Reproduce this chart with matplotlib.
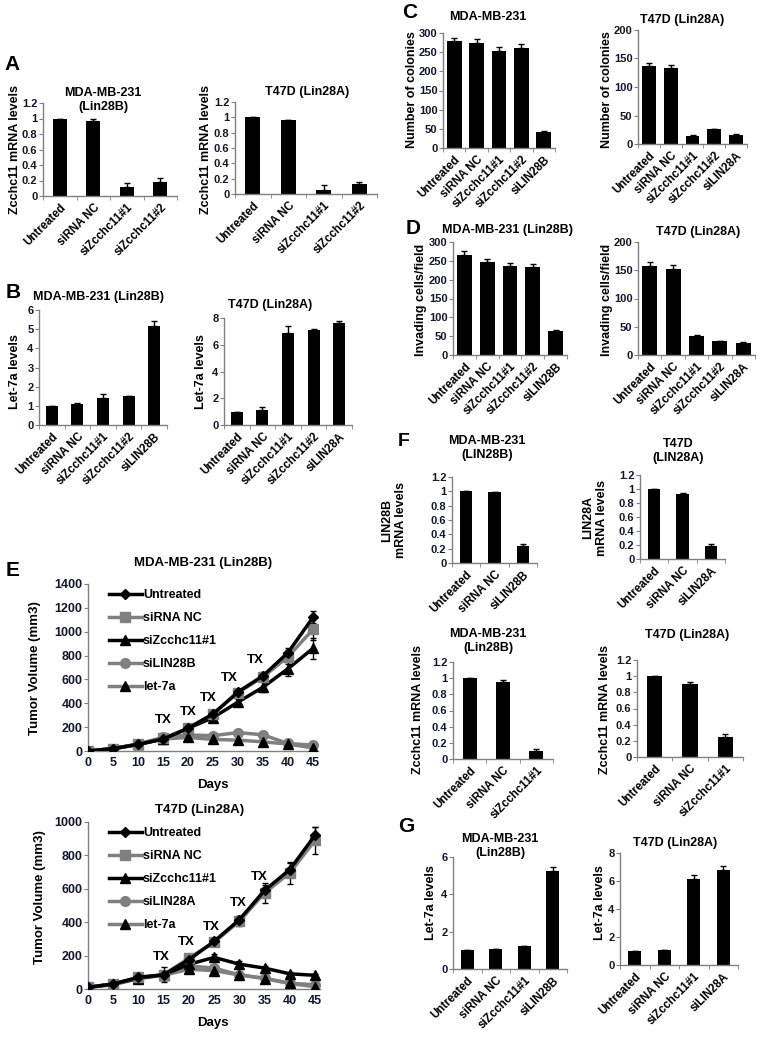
import numpy as np
import matplotlib
matplotlib.use("Agg")
from matplotlib import pyplot as plt
from matplotlib import font_manager

plt.rcParams['font.family'] = ['Liberation Sans', 'DejaVu Sans']
plt.rcParams['font.weight'] = 'bold'

W, H = 762, 1041
GRAY = '#808080'
INK = '#15152e'

# narrow digits for the tick labels, if the narrow face is there
_names = {f.name for f in font_manager.fontManager.ttflist}
if 'Liberation Sans Narrow' in _names:
    NARROW = ['Liberation Sans Narrow', 'Liberation Sans']
    TICK = 9.5
else:
    NARROW = ['Liberation Sans', 'DejaVu Sans']
    TICK = 8

# ---- data ----
a_labels = ['Untreated', 'siRNA NC', 'siZcchc11#1', 'siZcchc11#2']
a_mda = [1.0, 0.97, 0.11, 0.18]
a_mda_err = [0.0, 0.03, 0.06, 0.05]
a_t47 = [1.0, 0.96, 0.05, 0.13]
a_t47_err = [0.0, 0.01, 0.07, 0.03]

b_mda_labels = ['Untreated', 'siRNA NC', 'siZcchc11#1', 'siZcchc11#2', 'siLIN28B']
b_t47_labels = ['Untreated', 'siRNA NC', 'siZcchc11#1', 'siZcchc11#2', 'siLIN28A']
b_mda = [1.0, 1.12, 1.4, 1.5, 5.15]
b_mda_err = [0.0, 0.03, 0.2, 0.03, 0.3]
b_t47 = [1.0, 1.1, 6.9, 7.08, 7.6]
b_t47_err = [0.0, 0.22, 0.5, 0.12, 0.18]

c_mda = [278, 275, 254, 262, 42]
c_mda_err = [10, 10, 9, 10, 2]
c_t47 = [136, 133, 14, 26, 16]
c_t47_err = [6, 5, 1, 1, 1]

d_mda = [265, 246, 236, 233, 65]
d_mda_err = [10, 10, 9, 9, 2]
d_t47 = [158, 152, 34, 24, 22]
d_t47_err = [6, 7, 1, 1, 1]

days = [0, 5, 10, 15, 20, 25, 30, 35, 40, 45]
e_mda_names = ['Untreated', 'siRNA NC', 'siZcchc11#1', 'siLIN28B', 'let-7a']
e_mda_untreated = [0, 20, 55, 100, 190, 310, 495, 630, 825, 1120]
e_mda_sinc = [0, 20, 55, 105, 190, 310, 490, 620, 790, 1020]
e_mda_sizc = [0, 20, 55, 100, 190, 280, 410, 535, 690, 860]
e_mda_silin = [0, 20, 60, 114, 134, 129, 154, 136, 63, 49]
e_mda_let7 = [0, 15, 55, 100, 114, 97, 91, 77, 58, 26]
e_mda_untreated_err = [0, 5, 8, 10, 15, 20, 25, 30, 40, 50]
e_mda_sinc_err = [0, 5, 8, 10, 15, 20, 25, 30, 60, 90]
e_mda_sizc_err = [0, 5, 8, 10, 15, 20, 25, 40, 60, 90]

e_t47_names = ['Untreated', 'siRNA NC', 'siZcchc11#1', 'siLIN28A', 'let-7a']
e_t47_untreated = [10, 30, 70, 85, 175, 285, 415, 590, 715, 920]
e_t47_sinc = [10, 30, 70, 85, 185, 280, 405, 575, 695, 890]
e_t47_sizc = [10, 30, 65, 85, 148, 189, 149, 125, 91, 82]
e_t47_silin = [10, 30, 65, 85, 138, 125, 85, 65, 35, 25]
e_t47_let7 = [10, 25, 62, 82, 118, 110, 84, 62, 33, 14]
e_t47_untreated_err = [5, 10, 15, 20, 20, 20, 25, 30, 40, 50]
e_t47_sinc_err = [5, 10, 15, 45, 20, 20, 30, 60, 65, 80]
e_t47_sizc_err = [5, 10, 15, 20, 20, 20, 20, 15, 10, 10]

f1_mda_labels = ['Untreated', 'siRNA NC', 'siLIN28B']
f1_t47_labels = ['Untreated', 'siRNA NC', 'siLIN28A']
f1_mda = [1.0, 0.99, 0.24]
f1_mda_err = [0.0, 0.005, 0.02]
f1_t47 = [1.0, 0.93, 0.19]
f1_t47_err = [0.0, 0.02, 0.02]

f2_labels = ['Untreated', 'siRNA NC', 'siZcchc11#1']
f2_mda = [1.0, 0.95, 0.1]
f2_mda_err = [0.0, 0.03, 0.02]
f2_t47 = [1.0, 0.9, 0.25]
f2_t47_err = [0.0, 0.03, 0.04]

g_mda_labels = ['Untreated', 'siRNA NC', 'siZcchc11#1', 'siLIN28B']
g_t47_labels = ['Untreated', 'siRNA NC', 'siZcchc11#1', 'siLIN28A']
g_mda = [1.0, 1.05, 1.25, 5.25]
g_mda_err = [0.03, 0.03, 0.0, 0.2]
g_t47 = [1.0, 1.05, 6.15, 6.8]
g_t47_err = [0.0, 0.05, 0.3, 0.25]

fig = plt.figure(figsize=(W / 100, H / 100), dpi=100)


def add_ax(x0, x1, ytop, ybot):
    # pixel box -> figure fraction
    return fig.add_axes([x0 / W, 1 - ybot / H, (x1 - x0) / W, (ybot - ytop) / H])


def ptext(x, y, s, size=9, rot=0, **kw):
    fig.text(x / W, 1 - y / H, s, ha='center', va='center', fontsize=size,
             fontweight='bold', rotation=rot, linespacing=1.15, **kw)


def style_axes(ax, size=TICK):
    for side in ('top', 'right'):
        ax.spines[side].set_visible(False)
    for side in ('left', 'bottom'):
        ax.spines[side].set_color(GRAY)
        ax.spines[side].set_linewidth(1)
    ax.tick_params(axis='y', length=3, color=GRAY, pad=1, labelsize=size,
                   labelcolor=INK)
    for t in ax.get_yticklabels():
        t.set_family(NARROW)
        t.set_fontweight('bold')


def bar_panel(box, labels, vals, errs, ymax, ystep, width, xsize=8.3):
    ax = add_ax(*box)
    x = np.arange(len(vals))
    ax.bar(x, vals, width=width, color='black', zorder=2)
    ax.errorbar(x, vals, yerr=[np.zeros(len(errs)), errs], fmt='none',
                ecolor='black', elinewidth=1, capsize=2.5, capthick=1, zorder=3)
    ax.set_xlim(-0.5, len(vals) - 0.5)
    ax.set_ylim(0, ymax)
    ticks = np.arange(0, ymax + ystep / 2, ystep)
    ax.set_yticks(ticks)
    ax.set_yticklabels(['%g' % round(t, 2) for t in ticks])
    ax.set_xticks(x)
    ax.set_xticklabels(labels, rotation=45, ha='right', rotation_mode='anchor',
                       fontsize=xsize, fontweight='bold')
    ax.set_xticks(np.arange(len(vals) + 1) - 0.5, minor=True)
    ax.tick_params(axis='x', which='major', length=0, pad=4)
    ax.tick_params(axis='x', which='minor', length=3, color=GRAY)
    style_axes(ax)
    return ax


def line_panel(box, ymax, series, names, errs, tx):
    ax = add_ax(*box)
    styles = [
        dict(color='black', marker='D', ms=5, mfc='black', mec='black'),
        dict(color=GRAY, marker='s', ms=7, mfc=GRAY, mec=GRAY),
        dict(color='black', marker='^', ms=7, mfc='black', mec='black'),
        dict(color=GRAY, marker='o', ms=7, mfc=GRAY, mec=GRAY),
        dict(color=GRAY, marker='^', ms=7, mfc='black', mec='black'),
    ]
    order = [3, 4, 2, 1, 0]
    handles = [None] * 5
    for i in order:
        st = styles[i]
        if errs[i] is not None:
            ax.errorbar(days, series[i], yerr=errs[i], fmt='none',
                        ecolor='black', elinewidth=1, capsize=2.5, zorder=2)
        ln, = ax.plot(days, series[i], lw=2.5, zorder=3 + (i == 0), **st)
        handles[i] = ln
    ax.set_xlim(0, 46)
    ax.set_ylim(0, ymax)
    ax.set_xticks(days)
    ax.set_yticks(np.arange(0, ymax + 1, 200))
    ax.tick_params(axis='x', length=0, pad=4, labelsize=TICK + 1,
                   labelcolor=INK)
    for t in ax.get_xticklabels():
        t.set_family(NARROW)
        t.set_fontweight('bold')
    style_axes(ax, TICK + 1)
    for xx, yy in tx:
        ax.text(xx, yy, 'TX', ha='center', va='center', fontsize=9.5,
                fontweight='bold')
    ax.legend(handles, names, loc='upper left',
              bbox_to_anchor=(0.07, 1.0), frameon=False,
              prop=dict(weight='bold', size=9), handlelength=2.6,
              handletextpad=0.1, labelspacing=0.88, borderaxespad=0)
    return ax


# ---- panel A ----
ptext(12, 64, 'A', size=15)
bar_panel((43, 177, 103, 196), a_labels, a_mda, a_mda_err, 1.2, 0.2, 0.42)
ptext(103, 100, 'MDA-MB-231\n(Lin28B)')
ptext(15, 150, 'Zcchc11 mRNA levels', rot=90)
bar_panel((235, 377, 102, 194), a_labels, a_t47, a_t47_err, 1.2, 0.2, 0.42)
ptext(307, 92, 'T47D (Lin28A)')
ptext(206, 150, 'Zcchc11 mRNA levels', rot=90)

# ---- panel B ----
ptext(13, 292, 'B', size=15)
bar_panel((39, 167, 310, 425), b_mda_labels, b_mda, b_mda_err, 6, 1, 0.47)
ptext(98, 297, 'MDA-MB-231 (Lin28B)')
ptext(15, 372, 'Let-7a levels', rot=90)
bar_panel((224, 352, 318, 425), b_t47_labels, b_t47, b_t47_err, 8, 2, 0.47)
ptext(270, 305, 'T47D (Lin28A)')
ptext(201, 372, 'Let-7a levels', rot=90)

# ---- panel C ----
ptext(410, 13, 'C', size=15)
bar_panel((443, 555, 33, 148), b_mda_labels, c_mda, c_mda_err, 300, 50, 0.66)
ptext(488, 17, 'MDA-MB-231')
ptext(412, 90, 'Number of colonies', rot=90)
bar_panel((638, 747, 30, 144), b_t47_labels, c_t47, c_t47_err, 200, 50, 0.64)
ptext(682, 20, 'T47D (Lin28A)')
ptext(607, 90, 'Number of colonies', rot=90)

# ---- panel D ----
ptext(413, 229, 'D', size=15)
bar_panel((453, 567, 242, 355), b_mda_labels, d_mda, d_mda_err, 300, 50, 0.65)
ptext(507, 230, 'MDA-MB-231 (Lin28B)')
ptext(421, 300, 'Invading cells/field', rot=90)
bar_panel((638, 755, 242, 355), b_t47_labels, d_t47, d_t47_err, 200, 50, 0.64)
ptext(698, 232, 'T47D (Lin28A)')
ptext(607, 300, 'Invading cells/field', rot=90)

# ---- panel E ----
ptext(13, 571, 'E', size=15)
line_panel((88, 318, 584, 751), 1400,
           [e_mda_untreated, e_mda_sinc, e_mda_sizc, e_mda_silin, e_mda_let7],
           e_mda_names,
           [e_mda_untreated_err, e_mda_sinc_err, e_mda_sizc_err, None, None],
           [(15, 260), (20, 330), (24, 445), (28.3, 610), (33.5, 765)])
ptext(203, 563, 'MDA-MB-231 (Lin28B)', size=9.5)
ptext(35, 668, 'Tumor Volume (mm3)', rot=90, size=9.5)
ptext(213, 785, 'Days', size=9.5)

line_panel((88, 320, 822, 989), 1000,
           [e_t47_untreated, e_t47_sinc, e_t47_sizc, e_t47_silin, e_t47_let7],
           e_t47_names,
           [e_t47_untreated_err, e_t47_sinc_err, e_t47_sizc_err, None, None],
           [(14.5, 191), (19.5, 280), (24.5, 370), (29.9, 513), (33.9, 668)])
ptext(200, 810, 'T47D (Lin28A)', size=9.5)
ptext(40, 897, 'Tumor Volume (mm3)', rot=90, size=9.5)
ptext(213, 1023, 'Days', size=9.5)

# ---- panel F ----
ptext(404, 442, 'F', size=14)
bar_panel((452, 537, 477, 563), f1_mda_labels, f1_mda, f1_mda_err, 1.2, 0.2, 0.43)
ptext(487, 448, 'MDA-MB-231\n(LIN28B)')
ptext(394, 520, 'LIN28B\nmRNA levels', rot=90)
bar_panel((640, 725, 475, 559), f1_t47_labels, f1_t47, f1_t47_err, 1.2, 0.2, 0.43)
ptext(678, 451, 'T47D\n(LIN28A)')
ptext(595, 518, 'LIN28A\nmRNA levels', rot=90)

bar_panel((453, 553, 662, 759), f2_labels, f2_mda, f2_mda_err, 1.2, 0.2, 0.42)
ptext(488, 641, 'MDA-MB-231\n(Lin28B)')
ptext(418, 710, 'Zcchc11 mRNA levels', rot=90)
bar_panel((637, 743, 660, 757), f2_labels, f2_t47, f2_t47_err, 1.2, 0.2, 0.43)
ptext(687, 635, 'T47D (Lin28A)')
ptext(605, 710, 'Zcchc11 mRNA levels', rot=90)

# ---- panel G ----
ptext(406, 826, 'G', size=15)
bar_panel((453, 567, 857, 969), g_mda_labels, g_mda, g_mda_err, 6, 2, 0.45)
ptext(500, 846, 'MDA-MB-231\n(Lin28B)')
ptext(431, 903, 'Let-7a levels', rot=90)
bar_panel((620, 738, 853, 965), g_t47_labels, g_t47, g_t47_err, 8, 2, 0.45)
ptext(675, 843, 'T47D (Lin28A)')
ptext(600, 903, 'Let-7a levels', rot=90)

fig.savefig('out.png', dpi=100)
